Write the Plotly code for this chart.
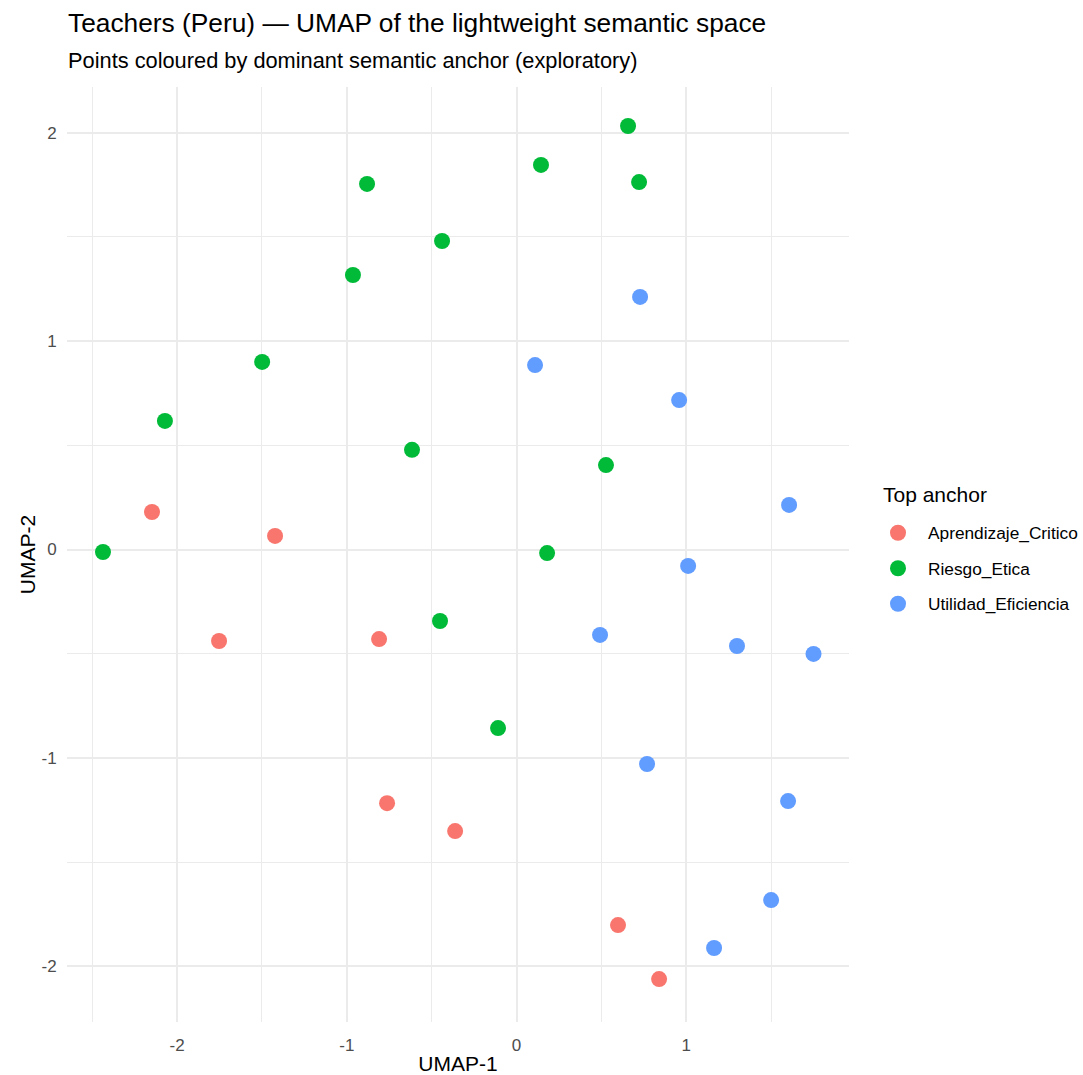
import plotly.graph_objects as go

# ---- data ----
anchors = ["Aprendizaje_Critico", "Riesgo_Etica", "Utilidad_Eficiencia"]
colors = ["#F8766D", "#00BA38", "#619CFF"]

aprendizaje_x = [-2.148, -1.423, -1.753, -0.810, -0.763, -0.362, 0.598, 0.840]
aprendizaje_y = [0.180, 0.065, -0.439, -0.430, -1.217, -1.351, -1.802, -2.061]

riesgo_x = [0.657, 0.144, 0.722, -0.881, -0.439, -0.964, -1.499, -2.072,
            -0.616, 0.527, -2.437, 0.180, -0.451, -0.109]
riesgo_y = [2.032, 1.845, 1.763, 1.754, 1.480, 1.317, 0.900, 0.617,
            0.478, 0.405, -0.012, -0.017, -0.343, -0.857]

utilidad_x = [0.728, 0.109, 0.958, 1.606, 1.011, 0.492, 1.299, 1.750,
              0.769, 1.600, 1.500, 1.164]
utilidad_y = [1.212, 0.885, 0.717, 0.214, -0.079, -0.410, -0.463, -0.501,
              -1.029, -1.207, -1.682, -1.912]

xs = [aprendizaje_x, riesgo_x, utilidad_x]
ys = [aprendizaje_y, riesgo_y, utilidad_y]

x_ticks = [-2, -1, 0, 1]
y_ticks = [-2, -1, 0, 1, 2]

title = "Teachers (Peru) — UMAP of the lightweight semantic space"
subtitle = "Points coloured by dominant semantic anchor (exploratory)"
legend_title = "Top anchor"

FONT = "Liberation Sans, Arial, sans-serif"

W, H = 1083, 1075
ML, MT, MB = 67, 87, 53
PW = 782
MR = W - ML - PW
PH = H - MT - MB

fig = go.Figure()
for i, name in enumerate(anchors):
    fig.add_trace(go.Scatter(
        x=xs[i], y=ys[i], mode="markers", name=name,
        legendgroup=name,
        marker=dict(color=colors[i], size=16, line=dict(width=0)),
    ))

grid = "#EBEBEB"
axis_common = dict(
    automargin=False,
    showline=False, zeroline=False, showgrid=True, gridcolor=grid, gridwidth=1.6,
    ticks="outside", tickcolor="rgba(0,0,0,0)",
    tickfont=dict(family=FONT, size=17, color="#4D4D4D"),
    minor=dict(dtick=0.5, tick0=0, showgrid=True, gridcolor=grid, gridwidth=0.9, ticks=""),
)

fig.update_layout(
    width=W, height=H,
    paper_bgcolor="white", plot_bgcolor="white",
    margin=dict(l=ML, r=MR, t=MT, b=MB, autoexpand=False),
    font=dict(family=FONT, color="black"),
    xaxis=dict(range=[-2.649, 1.959], tickvals=x_ticks, ticktext=[str(v) for v in x_ticks],
               ticklen=8,
               title=dict(text="UMAP-1", font=dict(family=FONT, size=21, color="black"), standoff=2),
               **axis_common),
    yaxis=dict(range=[-2.267, 2.219], tickvals=y_ticks, ticktext=[str(v) for v in y_ticks],
               ticklen=6,
               title=dict(text="UMAP-2", font=dict(family=FONT, size=21, color="black"), standoff=0),
               **axis_common),
    showlegend=True,
    legend=dict(
        font=dict(family=FONT, size=17.3, color="black"),
        xref="container", yref="container",
        x=868 / W, y=1 - 515 / H, xanchor="left", yanchor="top",
        tracegroupgap=10, itemsizing="trace", itemwidth=50,
        bgcolor="rgba(0,0,0,0)",
    ),
)


def px_to_paper(px_x, px_y):
    """page-pixel position -> paper coordinates"""
    return (px_x - ML) / PW, (MT + PH - px_y) / PH


tx, ty = px_to_paper(66, 23)
sx, sy = px_to_paper(66, 60)
lx, ly = px_to_paper(881, 494)

fig.add_annotation(text=title, xref="paper", yref="paper", x=tx, y=ty,
                   xanchor="left", yanchor="middle", showarrow=False,
                   font=dict(family=FONT, size=26.3, color="black"))
fig.add_annotation(text=subtitle, xref="paper", yref="paper", x=sx, y=sy,
                   xanchor="left", yanchor="middle", showarrow=False,
                   font=dict(family=FONT, size=21.8, color="black"))
fig.add_annotation(text=legend_title, xref="paper", yref="paper", x=lx, y=ly,
                   xanchor="left", yanchor="middle", showarrow=False,
                   font=dict(family=FONT, size=21, color="black"))

fig.write_html(
    "out.html",
    config={"displayModeBar": False},
    post_script="document.body.style.margin='0';document.body.style.overflow='hidden';",
)
